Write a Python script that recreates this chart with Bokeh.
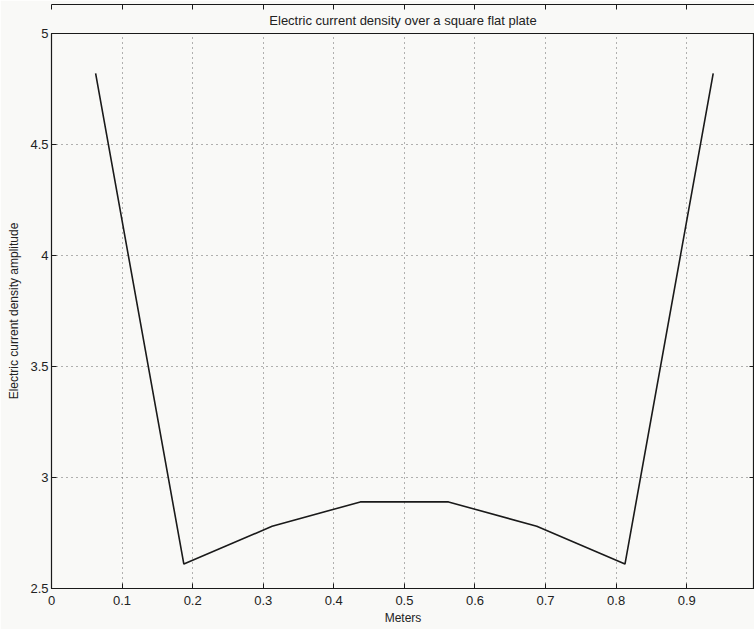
from bokeh.plotting import figure
from bokeh.models import LinearAxis, Range1d, FixedTicker, Title, CustomLabelingPolicy
from bokeh.embed import file_html
from bokeh.resources import INLINE

meters = [0.0625, 0.1875, 0.3125, 0.4375, 0.5625, 0.6875, 0.8125, 0.9375]
density = [4.82, 2.61, 2.78, 2.89, 2.89, 2.78, 2.61, 4.82]
x_ticks = [0, 0.1, 0.2, 0.3, 0.4, 0.5, 0.6, 0.7, 0.8, 0.9, 1.0]
y_ticks = [2.5, 3, 3.5, 4, 4.5, 5]

FONT = "Liberation Sans"
BG = "#f9f9f7"

p = figure(width=754, height=629, output_backend="svg", toolbar_location=None,
           x_range=Range1d(0, 0.996), y_range=Range1d(2.5, 5),
           min_border_left=51, min_border_right=0, min_border_top=33, min_border_bottom=41,
           background_fill_color=BG, border_fill_color=BG)
p.title = None
t = Title(text="Electric current density over a square flat plate", align="center",
          text_font=FONT, text_font_size="13px", text_font_style="normal",
          text_color="#222222", offset=0, standoff=12)
p.add_layout(t, "above")

p.line(meters, density, line_color="#1a1a1a", line_width=1.6)

p.outline_line_color = "#1a1a1a"
p.outline_line_width = 1.2

for ax in (p.xaxis[0], p.yaxis[0]):
    ax.major_tick_in = 5
    ax.major_tick_out = 0
    ax.minor_tick_in = 0
    ax.minor_tick_out = 0
    ax.axis_line_color = "#1a1a1a"
    ax.major_tick_line_color = "#1a1a1a"
    ax.major_label_text_font = FONT
    ax.major_label_text_font_size = "13px"
    ax.major_label_text_color = "#222222"
    ax.axis_label_text_font = FONT
    ax.axis_label_text_font_size = "12px"
    ax.axis_label_text_font_style = "normal"
    ax.axis_label_text_color = "#222222"

p.xaxis[0].ticker = FixedTicker(ticks=x_ticks)
p.yaxis[0].ticker = FixedTicker(ticks=y_ticks)
p.xaxis[0].major_label_overrides = {0: "0"}
p.yaxis[0].major_label_overrides = {3: "3", 4: "4", 5: "5"}
p.xaxis[0].axis_label = "Meters"
p.yaxis[0].axis_label = "Electric current density amplitude"
p.xaxis[0].major_label_standoff = 7
p.xaxis[0].axis_label_standoff = 3
p.yaxis[0].major_label_standoff = 3
p.yaxis[0].axis_label_standoff = 6

hide = "for (const i of indices) indices.unset(i); return indices"
top = LinearAxis(ticker=FixedTicker(ticks=x_ticks), major_tick_in=5, major_tick_out=0,
                 minor_tick_in=0, minor_tick_out=0,
                 major_label_policy=CustomLabelingPolicy(code=hide),
                 major_label_text_font_size="0px",
                 major_label_standoff=0, axis_line_color="#1a1a1a", major_tick_line_color="#1a1a1a")
right = LinearAxis(ticker=FixedTicker(ticks=y_ticks), major_tick_in=5, major_tick_out=0,
                   minor_tick_in=0, minor_tick_out=0,
                   major_label_policy=CustomLabelingPolicy(code=hide),
                   major_label_text_font_size="0px",
                   major_label_standoff=0, axis_line_color="#1a1a1a", major_tick_line_color="#1a1a1a")
p.add_layout(top, "above")
p.add_layout(right, "right")

for g in (p.xgrid[0], p.ygrid[0]):
    g.grid_line_color = "#666666"
    g.grid_line_dash = "1 4"
    g.grid_line_width = 1
p.xgrid[0].ticker = FixedTicker(ticks=x_ticks)
p.ygrid[0].ticker = FixedTicker(ticks=y_ticks)

open("out.html", "w").write(file_html(p, INLINE))
